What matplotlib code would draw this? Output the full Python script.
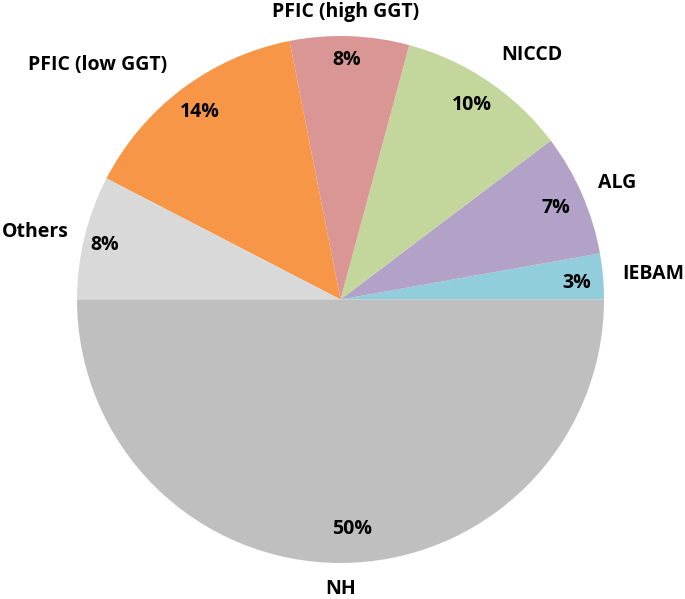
import numpy as np
import matplotlib
matplotlib.use("Agg")
import matplotlib.pyplot as plt

categories = ["IEBAM", "ALG", "NICCD", "PFIC (high GGT)", "PFIC (low GGT)", "Others", "NH"]
values = [2.8, 7.5, 10.5, 7.3, 14.3, 7.6, 50.0]
pct_labels = ["3%", "7%", "10%", "8%", "14%", "8%", "50%"]
colors = ["#92CDDC", "#B2A2C7", "#C3D69B", "#D99694", "#F79646", "#D9D9D9", "#BFBFBF"]

W, H = 685, 599
cx, cy, r = 340.5, 299.5, 263.5

fig = plt.figure(figsize=(W / 100, H / 100), dpi=100)
ax = fig.add_axes([0, 0, 1, 1])
wedges, _ = ax.pie(values, colors=colors, startangle=0, counterclock=True,
                   radius=1.0, wedgeprops=dict(linewidth=0))
ax.set_xlim(-cx / r, (W - cx) / r)
ax.set_ylim(-(H - cy) / r, cy / r)
ax.set_aspect("equal")
ax.axis("off")

font = dict(family=["Open Sans", "DejaVu Sans"], fontsize=14, fontweight="bold", color="#000000")
label_r = [1.19, 1.14, 1.178, 1.09, 1.28, 1.186, 1.10]
pct_r = [0.90, 0.89, 0.89, 0.91, 0.89, 0.92, 0.872]
label_ang = [4.7, 22.8, 52, 89, 136, 167.6, 270]
pct_ang = [4, 23, 56, 88.5, 127, 167, 273]

for i, w in enumerate(wedges):
    a = np.deg2rad(label_ang[i])
    ax.text(label_r[i] * np.cos(a), label_r[i] * np.sin(a), categories[i],
            ha="center", va="center", **font)
    b = np.deg2rad(pct_ang[i])
    ax.text(pct_r[i] * np.cos(b), pct_r[i] * np.sin(b), pct_labels[i],
            ha="center", va="center", **font)

fig.savefig("out.png", dpi=100)
